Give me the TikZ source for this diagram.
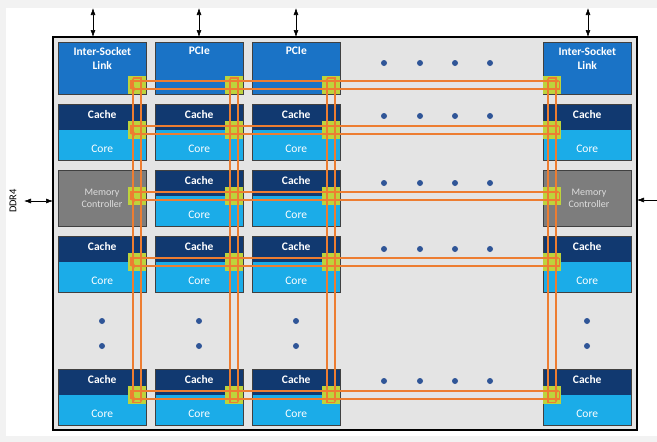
\documentclass[tikz,border=0pt]{standalone}
\usepackage{fontspec}
\setmainfont{Carlito}
\usetikzlibrary{arrows.meta,positioning,calc}

\definecolor{pagegray}{RGB}{242,242,242}
\definecolor{diegray}{RGB}{228,228,228}
\definecolor{linkblue}{RGB}{26,115,198}
\definecolor{cachenavy}{RGB}{17,57,112}
\definecolor{coreblue}{RGB}{27,172,232}
\definecolor{mcgray}{RGB}{125,125,125}
\definecolor{mctext}{RGB}{222,222,222}
\definecolor{stopgreen}{RGB}{190,211,60}
\definecolor{ringorange}{RGB}{237,125,49}
\definecolor{dotblue}{RGB}{47,85,151}

\tikzset{
  die/.style={draw=black, line width=1.8pt, fill=diegray, anchor=north west,
              minimum width=584pt, minimum height=393pt, inner sep=0pt, outer sep=0pt},
  iobox/.style={draw=black!75, line width=0.6pt, fill=linkblue, anchor=north west,
                minimum width=88pt, minimum height=52pt, inner sep=0pt},
  mcbox/.style={iobox, fill=mcgray, minimum height=56pt},
  cacheband/.style={fill=cachenavy, anchor=north west, minimum width=88pt,
                    minimum height=26pt, inner sep=0pt},
  coreband/.style={cacheband, fill=coreblue, minimum height=30pt},
  tileedge/.style={draw=black!75, line width=0.6pt},
  iotext/.style={text=white, align=center, inner sep=0pt,
                 font=\bfseries\fontsize{11.5}{14}\selectfont},
  coretext/.style={iotext, font=\fontsize{11.5}{14}\selectfont},
  mclabel/.style={text=mctext, align=center, inner sep=0pt,
                  font=\fontsize{10}{11.5}\selectfont},
  stop/.style={fill=stopgreen, minimum size=18pt,
               inner sep=0pt, anchor=north west},
  ring/.style={draw=ringorange, line width=1.5pt,
               arrows={-Stealth[length=4pt,width=4.5pt]}},
  ioarrow/.style={arrows={Latex[length=7pt,width=5pt]-Latex[length=7pt,width=5pt]},
                  line width=0.6pt},
}

\begin{document}
\begin{tikzpicture}[x=1pt, y=-1pt]
  \useasboundingbox (0,0) rectangle (657,442);
  \fill[pagegray] (0,0) rectangle (657,442);
  \fill[white] (6,8) rectangle (657,436);

  \node[die] (die) at (53,37) {};

  % io tiles on top row
  \node[iobox] (isl-l) at (58,42) {};
  \node[iotext, below=5pt of isl-l.north] (isl-l-t) {Inter-Socket\\Link};
  \node[iobox] (pcie-a) at (155,42) {};
  \node[iotext, below=5pt of pcie-a.north] (pcie-a-t) {PCIe};
  \node[iobox] (pcie-b) at (252,42) {};
  \node[iotext, below=5pt of pcie-b.north] (pcie-b-t) {PCIe};
  \node[iobox] (isl-r) at (543,42) {};
  \node[iotext, below=5pt of isl-r.north] (isl-r-t) {Inter-Socket\\Link};

  % memory controllers
  \node[mcbox] (mc-l) at (58,170) {};
  \node[mclabel] (mc-l-t) at (102,198.5) {Memory\\Controller};
  \node[mcbox] (mc-r) at (543,170) {};
  \node[mclabel] (mc-r-t) at (589,198.5) {Memory\\Controller};

  % cache + core tiles
  \foreach \c/\x/\rows in {1/58/{2/104,4/236,6/369}, 2/155/{2/104,3/170,4/236,6/369},
                           3/252/{2/104,3/170,4/236,6/369}, 4/543/{2/104,4/236,6/369}} {
    \foreach \r/\y in \rows {
      \node[cacheband] (cache-\c-\r) at (\x,\y) {};
      \node[coreband] (core-\c-\r) at (\x,\y+26) {};
      \draw[tileedge] (cache-\c-\r.north west) rectangle (core-\c-\r.south east);
      \node[iotext] (cache-\c-\r-t) at ($(cache-\c-\r.north)+(0,11)$) {Cache};
      \node[coretext] (core-\c-\r-t) at ($(core-\c-\r.north)+(0,19)$) {Core};
    }
  }

  % mesh stops
  \foreach \c/\sx in {1/128,2/225,3/322,4/543}
    \foreach \r/\sy in {1/76,2/121,3/187,4/253,6/386}
      \node[stop] (s-\c-\r) at (\sx,\sy) {};

  % rings: rows run east on top, west below
  \foreach \r in {1,2,3,4,6} {
    \coordinate (rw-\r) at ([shift={(3pt,-13pt)}]s-1-\r.north west);
    \coordinate (re-\r) at ([shift={(-2pt,-5pt)}]s-4-\r.north east);
    \draw[ring] (rw-\r) |- (re-\r);
    \draw[ring] (re-\r) |- (rw-\r);
  }
  % rings: columns run north on the left, south on the right
  \foreach \c in {1,2,3,4} {
    \coordinate (cn-\c) at ([shift={(5pt,-2pt)}]s-\c-1.north west);
    \coordinate (cs-\c) at ([shift={(13pt,2pt)}]s-\c-6.south west);
    \draw[ring] (cs-\c) -| (cn-\c);
    \draw[ring] (cn-\c) -| (cs-\c);
  }

  % ellipsis dots
  \foreach \y in {63,116,183,249,381}
    \foreach \x in {384,420,455,490}
      \fill[dotblue] (\x,\y) circle (3pt);
  \foreach \x in {102,199,296,587}
    \foreach \y in {321,346}
      \fill[dotblue] (\x,\y) circle (3pt);

  % external links
  \foreach \n/\x in {1/93,2/199,3/296,4/588} {
    \coordinate (io-\n) at (\x,8);
    \draw[ioarrow] (io-\n) -- (io-\n |- die.north);
  }
  \coordinate (ddr-l) at (24,201);
  \draw[ioarrow] (ddr-l) -- (ddr-l -| die.west);
  \coordinate (ddr-r) at (664,200);
  \draw[ioarrow] (ddr-r) -- (ddr-r -| die.east);
  \node[rotate=90, inner sep=0pt, font=\fontsize{10.5}{12}\selectfont] (ddr-t) at (13,201) {DDR4};
\end{tikzpicture}
\end{document}
